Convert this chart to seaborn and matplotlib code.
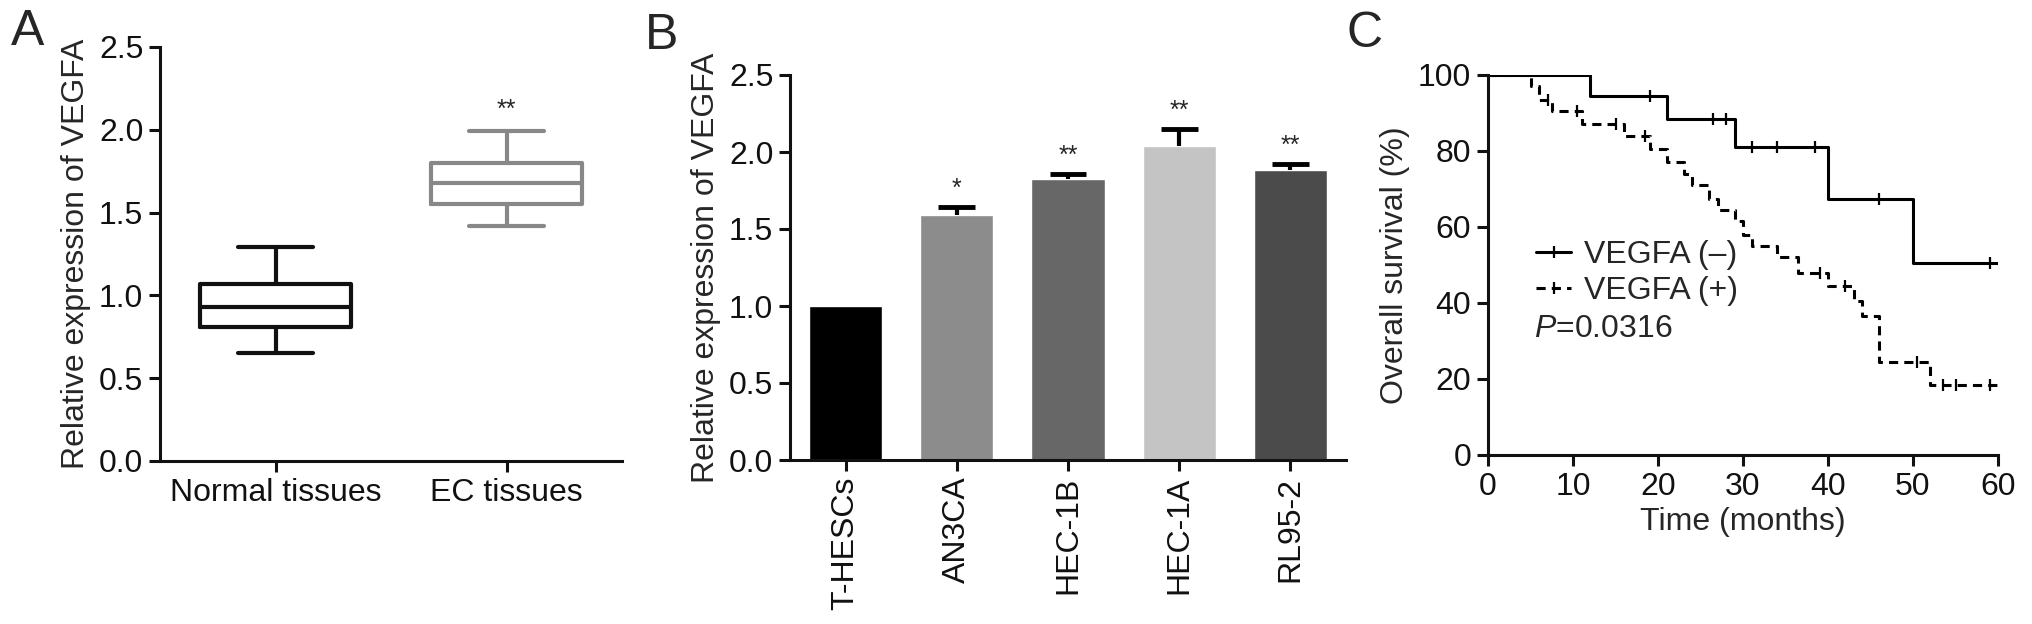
import numpy as np
import pandas as pd
import matplotlib
matplotlib.use('Agg')
import matplotlib.pyplot as plt
import seaborn as sns

# panel A - box plot (min, Q1, median, Q3, max per group)
box_groups = ['Normal tissues', 'EC tissues']
normal_vals = [0.65, 0.81, 0.93, 1.07, 1.29]
ec_vals = [1.42, 1.55, 1.68, 1.80, 1.99]
box_colors = ['#111111', '#888888']

# panel B - bar chart
cell_lines = ['T-HESCs', 'AN3CA', 'HEC-1B', 'HEC-1A', 'RL95-2']
expr = [1.0, 1.59, 1.825, 2.04, 1.88]
expr_err = [0.0, 0.05, 0.035, 0.11, 0.045]
bar_stars = ['', '*', '**', '**', '**']
bar_colors = ['#000000', '#8c8c8c', '#676767', '#c4c4c4', '#4b4b4b']

# panel C - Kaplan-Meier curves
neg_time = [0, 12, 21, 29, 40, 50, 60]
neg_surv = [100, 94.5, 88.5, 81, 67.5, 50.5, 50.5]
neg_cens_time = [19, 26.5, 28, 31, 34, 38.5, 46, 59]
neg_cens_surv = [94.5, 88.5, 88.5, 81, 81, 81, 67.5, 50.5]

pos_time = [0, 5, 6, 7.5, 11, 16, 19, 21, 23, 24, 26, 27, 29, 30, 31, 34, 36.5, 40, 43, 44, 46, 52, 60]
pos_surv = [100, 97, 93.5, 90.5, 87, 84, 80.5, 77, 74, 71, 67.5, 64.5, 61.5, 58, 55, 52, 48, 44.5, 40.5, 36.5, 24.5, 18.5, 18.5]
pos_cens_time = [7, 10.5, 15, 18.5, 39, 42, 50.5, 53.5, 55, 59]
pos_cens_surv = [93.5, 90.5, 87, 84, 48, 44.5, 24.5, 18.5, 18.5, 18.5]

sns.set_style('ticks')
plt.rcParams['font.family'] = ['Liberation Sans', 'DejaVu Sans']
plt.rcParams['mathtext.fontset'] = 'custom'
plt.rcParams['mathtext.rm'] = 'Liberation Sans'
plt.rcParams['mathtext.it'] = 'Liberation Sans:italic'

FS = 23
LW = 2.2

fig = plt.figure(figsize=(20.32, 6.24), dpi=100)
W, H = 2032, 624
def place(l, r, b, t):
    return fig.add_axes([l / W, 1 - b / H, (r - l) / W, (b - t) / H])

axA = place(160, 622, 461, 47)
axB = place(790, 1346, 460, 75)
axC = place(1488, 1998, 455, 75)

def style(ax):
    sns.despine(ax=ax)
    for s in ['left', 'bottom']:
        ax.spines[s].set_linewidth(LW)
        ax.spines[s].set_color('#111111')
    ax.tick_params(width=LW, length=8, labelsize=FS, colors='#111111', pad=4)

# A
dfA = pd.DataFrame({'group': [box_groups[0]] * len(normal_vals) + [box_groups[1]] * len(ec_vals),
                    'value': normal_vals + ec_vals})
sns.boxplot(data=dfA, x='group', y='value', hue='group', palette=box_colors, fill=False,
            width=0.65, linewidth=3, whis=(0, 100), legend=False, ax=axA)
axA.set_xlim(-0.5, 1.5)
axA.set_ylim(0, 2.5)
axA.set_yticks(np.arange(0, 2.51, 0.5))
axA.set_yticklabels([f'{v:.1f}' for v in np.arange(0, 2.51, 0.5)])
axA.set_xlabel('')
axA.set_ylabel('Relative expression of VEGFA', fontsize=FS, labelpad=6)
axA.text(1, max(ec_vals) + 0.06, '**', ha='center', va='bottom', fontsize=18)
style(axA)

# B
dfB = pd.DataFrame({'line': cell_lines, 'expr': expr})
sns.barplot(data=dfB, x='line', y='expr', hue='line', palette=bar_colors, width=0.66,
            legend=False, ax=axB, saturation=1)
for i, (v, e) in enumerate(zip(expr, expr_err)):
    if e > 0:
        axB.errorbar(i, v, yerr=[[0], [e]], color='black', capsize=0,
                     elinewidth=3, fmt='none')
        axB.hlines(v + e, i - 0.165, i + 0.165, color='black', lw=3.5)
    if bar_stars[i]:
        axB.text(i, v + e + 0.04, bar_stars[i], ha='center', va='bottom', fontsize=18)
axB.set_xlim(-0.5, 4.5)
axB.set_ylim(0, 2.5)
axB.set_yticks(np.arange(0, 2.51, 0.5))
axB.set_yticklabels([f'{v:.1f}' for v in np.arange(0, 2.51, 0.5)])
axB.set_xlabel('')
axB.set_ylabel('Relative expression of VEGFA', fontsize=FS, labelpad=6)
axB.tick_params(axis='x', rotation=90)
style(axB)

# C
dash = (0, (3, 2))
sns.lineplot(x=neg_time, y=neg_surv, drawstyle='steps-post', color='black', lw=LW,
             estimator=None, ax=axC)
sns.lineplot(x=pos_time, y=pos_surv, drawstyle='steps-post', color='black', lw=LW,
             estimator=None, ax=axC, linestyle=dash)
sns.scatterplot(x=neg_cens_time, y=neg_cens_surv, marker='|', s=70, color='black',
                linewidth=1.6, ax=axC)
sns.scatterplot(x=pos_cens_time, y=pos_cens_surv, marker='|', s=70, color='black',
                linewidth=1.6, ax=axC)
axC.set_xlim(0, 60)
axC.set_ylim(0, 100)
axC.set_xticks(range(0, 61, 10))
axC.set_yticks(range(0, 101, 20))
axC.set_xlabel('Time (months)', fontsize=FS, labelpad=4)
axC.set_ylabel('Overall survival (%)', fontsize=FS, labelpad=6)
style(axC)
h_neg = plt.Line2D([], [], color='black', lw=LW, marker='|', markersize=8, markeredgewidth=1.6)
h_pos = plt.Line2D([], [], color='black', lw=LW, ls=dash, marker='|', markersize=8, markeredgewidth=1.6)
axC.legend([h_neg, h_pos], ['VEGFA (\u2013)', 'VEGFA (+)'], loc='upper left',
           bbox_to_anchor=(1520 / W, 1 - 224 / H), bbox_transform=fig.transFigure,
           frameon=False, fontsize=FS, handlelength=1.1, handletextpad=0.4,
           borderpad=0, labelspacing=0.2)
fig.text(1534 / W, 1 - 329 / H, '$\\it{P}$=0.0316', fontsize=FS, va='center', ha='left')

# panel letters
fig.text(28 / W, 1 - 32 / H, 'A', fontsize=36, va='center', ha='center')
fig.text(662 / W, 1 - 36 / H, 'B', fontsize=36, va='center', ha='center')
fig.text(1365 / W, 1 - 34 / H, 'C', fontsize=36, va='center', ha='center')

fig.savefig('out.png', dpi=100)
